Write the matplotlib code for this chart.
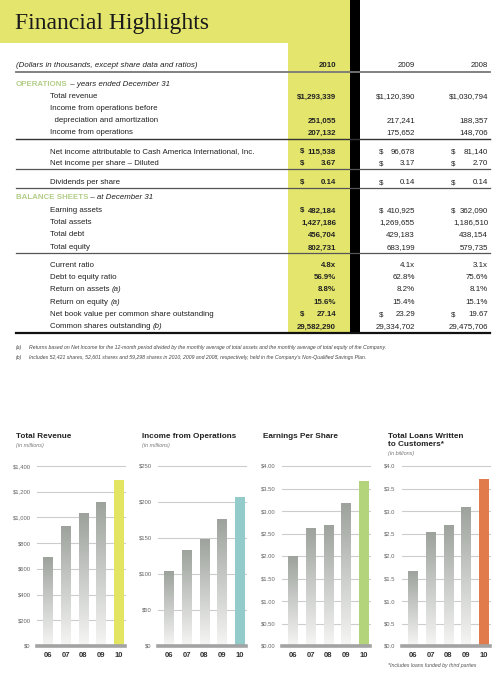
import numpy as np
import matplotlib
matplotlib.use('Agg')
from matplotlib import pyplot as plt
from matplotlib.colors import LinearSegmentedColormap

plt.rcParams['font.family'] = ['Liberation Sans Narrow', 'Liberation Sans', 'DejaVu Sans']

# ---- table data ----
table_years = ['2010', '2009', '2008']
row_labels = ['Total revenue', 'Income from operations before', '  depreciation and amortization',
              'Income from operations',
              'Net income attributable to Cash America International, Inc.',
              'Net income per share – Diluted', 'Dividends per share',
              'Earning assets', 'Total assets', 'Total debt', 'Total equity',
              'Current ratio', 'Debt to equity ratio', 'Return on assets (a)',
              'Return on equity (a)', 'Net book value per common share outstanding',
              'Common shares outstanding (b)']
col_2010 = ['$1,293,339', '', '251,055', '207,132', '115,538', '3.67', '0.14',
            '482,184', '1,427,186', '456,704', '802,731',
            '4.8x', '56.9%', '8.8%', '15.6%', '27.14', '29,582,290']
col_2009 = ['$1,120,390', '', '217,241', '175,652', '96,678', '3.17', '0.14',
            '410,925', '1,269,655', '429,183', '683,199',
            '4.1x', '62.8%', '8.2%', '15.4%', '23.29', '29,334,702']
col_2008 = ['$1,030,794', '', '188,357', '148,706', '81,140', '2.70', '0.14',
            '362,090', '1,186,510', '438,154', '579,735',
            '3.1x', '75.6%', '8.1%', '15.1%', '19.67', '29,475,706']
dollar_rows = [4, 5, 6, 7, 15]
footnotes = ['Returns based on Net Income for the 12-month period divided by the monthly average of total assets and the monthly average of total equity of the Company.',
             'Includes 52,421 shares, 52,601 shares and 59,298 shares in 2010, 2009 and 2008, respectively, held in the Company\u2019s Non-Qualified Savings Plan.']

# ---- chart data ----
chart_years = ['06', '07', '08', '09', '10']
revenue = [694, 936, 1031, 1120, 1293]
income_ops = [104, 134, 149, 176, 207]
eps = [2.01, 2.63, 2.70, 3.17, 3.67]
loans = [1.67, 2.53, 2.70, 3.09, 3.71]

YELLOW = '#e3e56c'
GREEN_HDR = '#b3cd88'

fig = plt.figure(figsize=(5, 6.76), dpi=100)
bg = fig.add_axes([0, 0, 1, 1])
bg.set_xlim(0, 500)
bg.set_ylim(676, 0)
bg.axis('off')
renderer = fig.canvas.get_renderer()

# background blocks
bg.add_patch(plt.Rectangle((0, 0), 350, 43, color=YELLOW, lw=0))
bg.add_patch(plt.Rectangle((288, 43), 62, 290, color=YELLOW, lw=0))
bg.add_patch(plt.Rectangle((350, 0), 10, 333, color='black', lw=0))

bg.text(15, 24, 'Financial Highlights', family=['Liberation Serif', 'DejaVu Serif'],
        fontsize=17, va='center', color='#1a1a1a')

FS = 5.7
BL = 2.4  # offset from row centre to text baseline


def cell(x, y, s, **kw):
    return bg.text(x, y + BL, s, fontsize=FS, va='baseline', color='#222', **kw)


def pair(x, y, a, b, kw_a, kw_b):
    t = cell(x, y, a, **kw_a)
    ext = t.get_window_extent(renderer)
    x2 = bg.transData.inverted().transform((ext.x1, 0))[0]
    cell(x2, y, b, **kw_b)


# header row
cell(16, 65, '(Dollars in thousands, except share data and ratios)', style='italic')
col_x = [336, 415, 488]
dollar_x = [300, 379, 451]
for i, yr in enumerate(table_years):
    cell(col_x[i], 65, yr, ha='right', weight='bold' if i == 0 else 'normal')
bg.plot([16, 490], [72, 72], color='#777', lw=1.3)

pair(16, 84, 'OPERATIONS', ' \u2013 years ended December 31',
     dict(weight='bold'), dict(style='italic'))
pair(16, 197, 'BALANCE SHEETS', ' \u2013 at December 31',
     dict(weight='bold'), dict(style='italic'))
for t in bg.texts:
    if t.get_text() in ('OPERATIONS', 'BALANCE SHEETS'):
        t.set_color(GREEN_HDR)

row_y = [96, 108, 120, 132, 151, 163, 182, 210, 222, 234, 247, 265, 277, 289, 302, 314, 326]
for r, lab in enumerate(row_labels):
    y = row_y[r]
    if ' (' in lab:
        a, b = lab.split(' (')
        pair(50, y, a + ' ', '(' + b, {}, dict(style='italic'))
    else:
        cell(50, y, lab)
    for i, col in enumerate([col_2010, col_2009, col_2008]):
        w = 'bold' if i == 0 else 'normal'
        cell(col_x[i], y, col[r], ha='right', weight=w)
        if r in dollar_rows:
            cell(dollar_x[i], y, '$', ha='left', weight=w)

for ly, c, lw in [(139, '#333', 1.0), (169, '#555', 0.9), (188, '#555', 0.9),
                  (253, '#555', 0.9), (333, '#111', 1.6)]:
    bg.plot([16, 490], [ly, ly], color=c, lw=lw)

for k, note in enumerate(footnotes):
    y = 347 + 11 * k
    bg.text(16, y, '(%s)' % 'ab'[k], fontsize=3.7, style='italic', va='center', color='#444')
    bg.text(29, y, note, fontsize=3.7, style='italic', va='center', color='#444')

# ---- bar charts ----
grad_cmap = LinearSegmentedColormap.from_list('g', ['#f6f6f5', '#9da29c'])
grad = np.linspace(0, 1, 256).reshape(-1, 1)


def bar_chart(left, values, color, yticks, fmt):
    ax = fig.add_axes([left / 500, 30 / 676, 88 / 500, 180 / 676])
    x = np.arange(len(values))
    bars = ax.bar(x, values, width=0.54, color='none', lw=0, zorder=3)
    for b in bars[:-1]:
        im = ax.imshow(grad, cmap=grad_cmap, origin='lower', aspect='auto', zorder=3,
                       extent=[b.get_x(), b.get_x() + b.get_width(), 0, b.get_height()])
        im.set_clip_path(b)
    bars[-1].set_facecolor(color)
    ax.set_xlim(-0.62, 4.34)
    ax.set_ylim(0, yticks[-1])
    for t in yticks[1:]:
        ax.axhline(t, color='#cccccc', lw=0.8, zorder=1, clip_on=False)
    ax.axhline(0, color='#a3a3a3', lw=2.6, zorder=4, clip_on=False)
    ax.set_yticks(yticks, [fmt(t) for t in yticks])
    ax.set_xticks(x, chart_years)
    for s in ax.spines.values():
        s.set_visible(False)
    ax.tick_params(axis='y', length=0, pad=4.5, labelsize=4.2, labelcolor='#666')
    ax.tick_params(axis='x', length=0, pad=4, labelsize=5.5, labelcolor='#333')
    for t in ax.get_xticklabels():
        t.set_fontweight('bold')
    ax.patch.set_alpha(0)
    return ax


bar_chart(37, revenue, '#e2e462', list(range(0, 1401, 200)), lambda v: f'${v:,.0f}')
bar_chart(158, income_ops, '#92cbca', list(range(0, 251, 50)), lambda v: f'${v:,.0f}')
bar_chart(282, eps, '#b3d47a', list(np.arange(0, 4.01, 0.5)), lambda v: f'${v:.2f}')
bar_chart(402, loans, '#e27b4b', list(np.arange(0, 4.01, 0.5)), lambda v: f'${v:.1f}')

TFS = 5.9
bg.text(16, 436, 'Total Revenue', fontsize=TFS, weight='bold', va='center', color='#222')
bg.text(16, 445, '(in millions)', fontsize=4, style='italic', va='center', color='#777')
bg.text(142, 436, 'Income from Operations', fontsize=TFS, weight='bold', va='center', color='#222')
bg.text(142, 445, '(in millions)', fontsize=4, style='italic', va='center', color='#777')
bg.text(263, 436, 'Earnings Per Share', fontsize=TFS, weight='bold', va='center', color='#222')
bg.text(388, 436, 'Total Loans Written', fontsize=TFS, weight='bold', va='center', color='#222')
bg.text(388, 444.5, 'to Customers*', fontsize=TFS, weight='bold', va='center', color='#222')
bg.text(388, 454, '(in billions)', fontsize=4, style='italic', va='center', color='#777')
bg.text(388, 666, '*Includes loans funded by third parties', fontsize=3.8, style='italic',
        va='center', color='#555')

fig.savefig('out.png', dpi=100)
